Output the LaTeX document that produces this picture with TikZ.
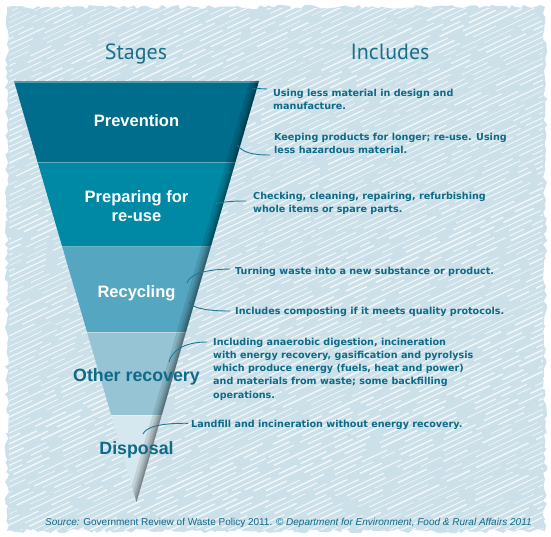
\documentclass[tikz,border=0pt]{standalone}
\usepackage{fontspec}
\setmainfont{Liberation Sans}
\newfontfamily\headfont{PT Sans}
\newfontfamily\notefont{DejaVu Sans}
\usetikzlibrary{decorations.pathmorphing}
\definecolor{bgblue}{HTML}{CBE0E8}
\definecolor{cPrev}{HTML}{006D8C}
\definecolor{cPrep}{HTML}{0089A5}
\definecolor{cRec}{HTML}{55A6C0}
\definecolor{cOth}{HTML}{96C4D5}
\definecolor{cDis}{HTML}{D5E8EF}
\definecolor{ink}{HTML}{0E6A87}
\definecolor{headc}{HTML}{1B6E8A}
\definecolor{linkc}{HTML}{1F7893}
\tikzset{
  stagew/.style={anchor=base, inner sep=0pt, text=white, font=\fontsize{16.5}{19.4}\selectfont\bfseries},
  staged/.style={anchor=base, inner sep=0pt, text=ink, font=\fontsize{17.8}{20}\selectfont\bfseries},
  note/.style={anchor=base west, inner sep=0pt, text=ink, font=\notefont\fontsize{9.6}{13.3}\selectfont\bfseries},
  head/.style={anchor=base, inner sep=0pt, text=headc, font=\headfont\fontsize{22}{24}\selectfont},
  link/.style={draw=linkc, line width=0.9pt},
}
\newcommand{\lines}[1]{\begin{tabular}[t]{@{}l@{}}#1\end{tabular}}
\begin{document}
\begin{tikzpicture}[x=1pt,y=-1pt]
\useasboundingbox (0,0) rectangle (551,537);
\fill[white] (0,0) rectangle (551,537);
\pgfmathsetseed{11}
\fill[bgblue, decorate, decoration={random steps, segment length=4pt, amplitude=2.2pt}] (7,7) rectangle (545,531);
% hatching
\begin{scope}
\clip (9,9) rectangle (543,529);
\foreach \i in {0,...,150} {
  \pgfmathsetmacro{\yy}{\i*5.4}
  \pgfmathsetmacro{\da}{20+rnd*70}
  \pgfmathsetmacro{\db}{3+rnd*14}
  \pgfmathsetmacro{\dc}{10+rnd*50}
  \pgfmathsetmacro{\dd}{3+rnd*18}
  \pgfmathsetmacro{\ph}{rnd*100}
  \pgfmathsetmacro{\lw}{0.5+rnd*1.1}
  \draw[white, opacity=0.75, line width=\lw pt, dash pattern=on \da pt off \db pt on \dc pt off \dd pt, dash phase=\ph pt] (0,\yy) -- (560,\yy-263);
}
\end{scope}
% funnel
\coordinate (TL) at (14,81);
\coordinate (TR) at (259,81);
\coordinate (AP) at (136.5,502);
\begin{scope}
\clip (TL) -- (TR) -- (AP) -- cycle;
\fill[cPrev] (0,81) rectangle (551,163);
\fill[cPrep] (0,163) rectangle (551,247);
\fill[cRec] (0,247) rectangle (551,332);
\fill[cOth] (0,332) rectangle (551,415);
\fill[cDis] (0,415) rectangle (551,510);
\foreach \yy in {163,247,332,415} \draw[white, opacity=0.4, line width=1pt] (0,\yy) -- (551,\yy);
\fill[white, opacity=0.3] (0,81) rectangle (551,83.5);
\foreach \w in {18,12,8,5,2.5} \draw[black, opacity=0.1, line width=\w pt] (TR) -- (AP);
\end{scope}
% headings
\node[head] (stages) at (136,60) {Stages};
\node[head] (includes) at (390,60) {Includes};
% stage labels
\node[stagew] (prev) at (136.5,126.7) {Prevention};
\node[stagew] (prep) at (136.5,202.3) {\begin{tabular}[t]{@{}c@{}}Preparing for\\re-use\end{tabular}};
\node[stagew] (rec) at (136.5,297) {Recycling};
\node[staged] (oth) at (136.5,381) {Other recovery};
\node[staged] (dis) at (136.5,454) {Disposal};
% notes
\node[note] (t1) at (273,96.7) {\lines{Using less material in design and\\manufacture.}};
\node[note] (t2) at (274,140.7) {\lines{Keeping products for longer; re-use. Using\\less hazardous material.}};
\node[note] (t3) at (253,199.3) {\lines{Checking, cleaning, repairing, refurbishing\\whole items or spare parts.}};
\node[note] (t4) at (235,274) {Turning waste into a new substance or product.};
\node[note] (t5) at (235,314) {Includes composting if it meets quality protocols.};
\node[note] (t6) at (213,345) {\lines{Including anaerobic digestion, incineration\\with energy recovery, gasification and pyrolysis\\which produce energy (fuels, heat and power)\\and materials from waste; some backfilling\\operations.}};
\node[note] (t7) at (191,427.3) {Landfill and incineration without energy recovery.};
% connector ends
\coordinate (e1) at (252,89);
\coordinate (e2) at (237,145);
\coordinate (e3) at (206,210);
\coordinate (e4) at (187,283);
\coordinate (e5) at (189,303);
\coordinate (e6) at (169,362);
\coordinate (e7) at (143,434);
\coordinate (a1) at ([xshift=-6pt,yshift=7.7pt]t1.base west);
\coordinate (a2) at ([xshift=-4pt,yshift=-1pt]t2.base west |- 0,154);
\coordinate (a3) at ([xshift=-7pt,yshift=-1.7pt]t3.base west);
\coordinate (a4) at ([xshift=-5pt,yshift=5pt]t4.base west);
\coordinate (a5) at ([xshift=-5pt,yshift=3pt]t5.base west);
\coordinate (a6) at ([xshift=-6pt,yshift=3pt]t6.base west);
\coordinate (a7) at ([xshift=-3pt,yshift=4pt]t7.base west);
\draw[link] (e1) .. controls (258,88.5) .. (a1);
\draw[link] (e2) .. controls (243,152) and (250,155) .. (a2);
\draw[link] (e3) .. controls (211,203) and (224,201) .. (a3);
\draw[link] (e4) .. controls (190,274) and (205,269.5) .. (a4);
\draw[link] (e5) .. controls (195,309) and (210,311) .. (a5);
\draw[link] (e6) .. controls (172,350) and (185,342) .. (a6);
\draw[link] (e7) .. controls (146,427) and (160,423) .. (a7);
% source
\node[anchor=base west, inner sep=0pt, text=ink, font=\fontsize{10}{12}\selectfont] (src) at (45,525) {{\itshape Source:} Government Review of Waste Policy 2011. \textcopyright{} {\itshape Department for Environment, Food \& Rural Affairs 2011}};
\end{tikzpicture}
\end{document}
